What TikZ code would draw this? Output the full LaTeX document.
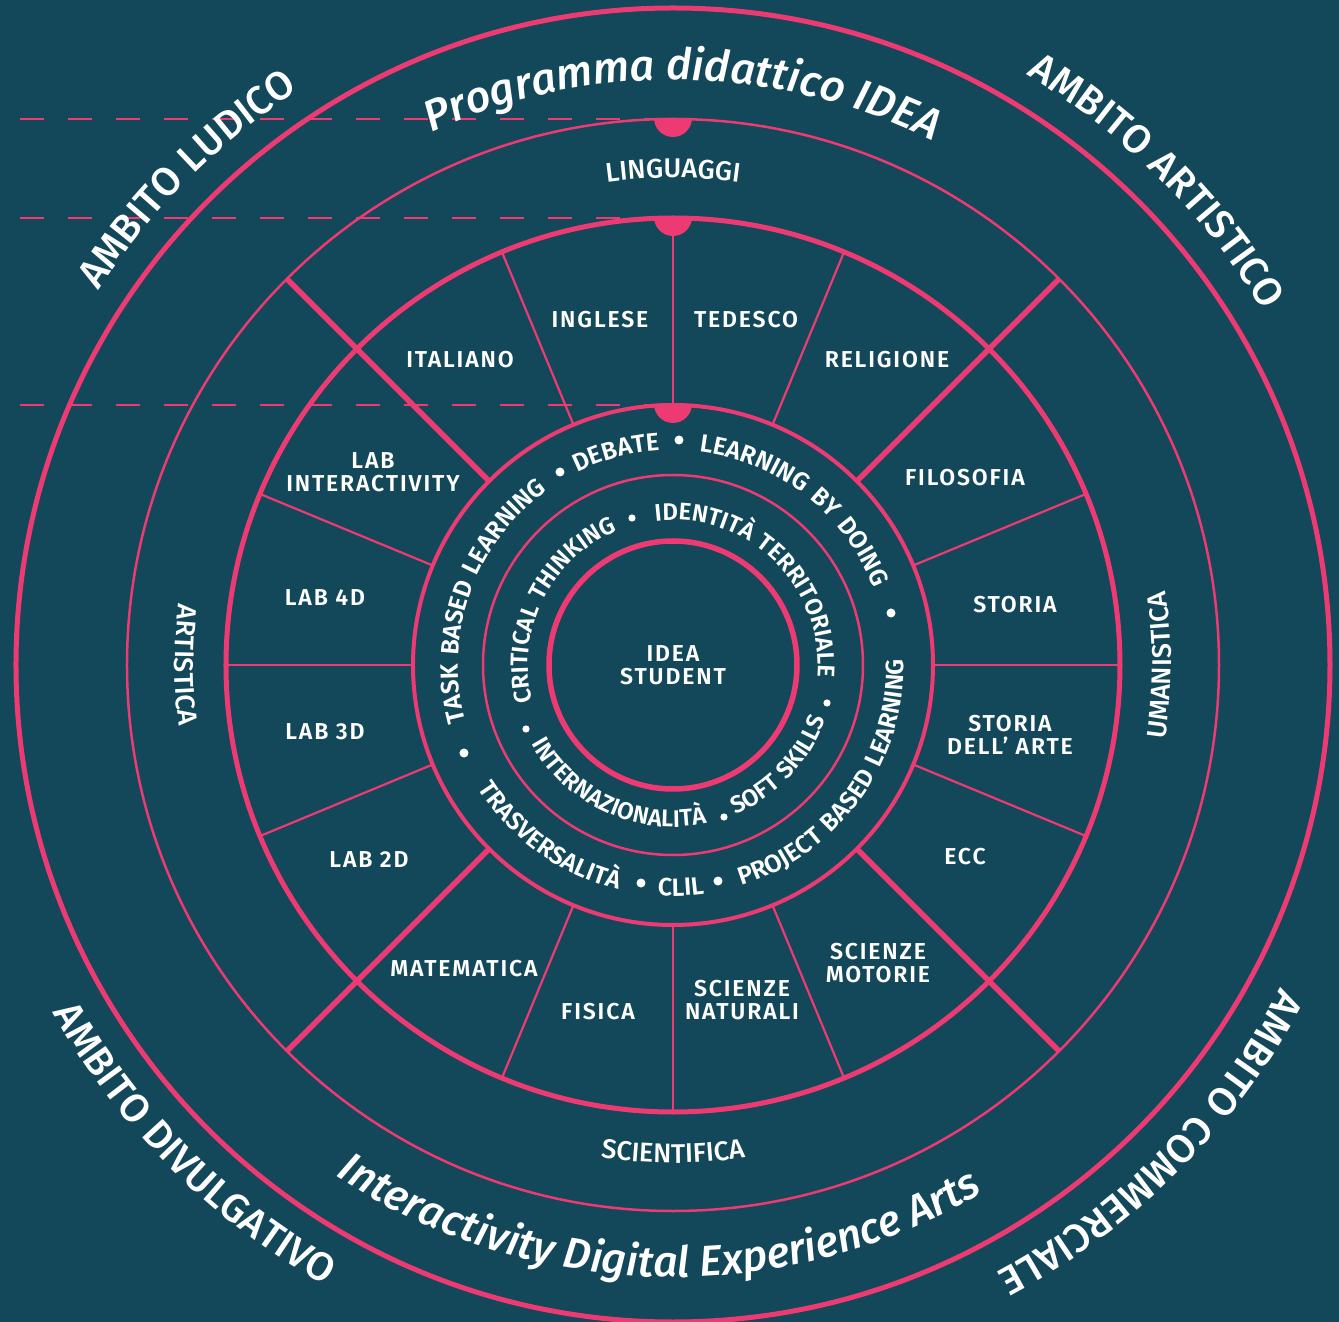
\documentclass[tikz,border=0pt]{standalone}
\usepackage{fontspec}
\setmainfont{Fira Sans}
\IfFontExistsTF{Fira Sans SemiBold}{\newfontfamily\fsemi{Fira Sans SemiBold}[LetterSpace=8]\newfontfamily\fring{Fira Sans SemiBold}[LetterSpace=9]\newfontfamily\fringb{Fira Sans SemiBold}[LetterSpace=7]}{\newfontfamily\fsemi{Fira Sans}[FakeBold=1.5,LetterSpace=8]\newfontfamily\fring{Fira Sans}[FakeBold=1.5,LetterSpace=9]\newfontfamily\fringb{Fira Sans}[FakeBold=1.5,LetterSpace=7]}
\IfFontExistsTF{Fira Sans Medium}{\newfontfamily\fmed{Fira Sans Medium}[LetterSpace=14]\newfontfamily\famb{Fira Sans Medium}[LetterSpace=3]}{\newfontfamily\fmed{Fira Sans}[LetterSpace=14]\newfontfamily\famb{Fira Sans}[LetterSpace=3]}
\IfFontExistsTF{Fira Sans Medium Italic}{\newfontfamily\fmedit{Fira Sans Medium Italic}}{\newfontfamily\fmedit{Fira Sans}[FakeSlant=0.2]}
\usetikzlibrary{decorations.text}
\definecolor{bg}{HTML}{12485A}
\definecolor{pk}{HTML}{EE3A72}
\newcommand\lblf{\fsemi\fontsize{23}{23.5}\selectfont}
\newcommand\ringf{\fring\fontsize{25}{27}\selectfont}
\newcommand\ringbf{\fringb\fontsize{24}{26}\selectfont}
\newcommand\secf{\fmed\fontsize{27}{29}\selectfont}
\newcommand\ambf{\famb\fontsize{40}{44}\selectfont}
\newcommand\titf{\fmedit\fontsize{43.5}{48}\selectfont}
\newcommand\subf{\fmedit\fontsize{43}{48}\selectfont}
\newcommand\cwtxt[4]{\path[decorate,decoration={text along path,text align=center,text color=white,text={|#3|#4}}] ({#1+100}:#2) arc[start angle={#1+100},end angle={#1-100},radius=#2];}
\newcommand\ccwtxt[4]{\path[decorate,decoration={text along path,text align=center,text color=white,text={|#3|#4}}] ({#1-100}:#2) arc[start angle={#1-100},end angle={#1+100},radius=#2];}
\tikzset{
 ringthick/.style={draw=pk,line width=5pt},
 ringthin/.style={draw=pk,line width=2.5pt},
 spoke/.style={draw=pk,line width=2.2pt},
 spokemid/.style={draw=pk,line width=2.8pt},
 spokebold/.style={draw=pk,line width=5.5pt},
 guide/.style={draw=pk,line width=2.4pt,dash pattern=on 24pt off 24pt},
 lbl/.style={text=white,font=\lblf,align=center,inner sep=0pt},
 bulletdot/.style={fill=white}
}
\begin{document}
\begin{tikzpicture}[x=1pt,y=1pt]
\fill[bg] (-673,-657) rectangle (666,665);
\useasboundingbox (-673,-657) rectangle (666,665);
% dashed guides
\coordinate (g1s) at (-653,546); \coordinate (g1e) at (-18,546);
\coordinate (g2s) at (-653,447); \coordinate (g2e) at (-18,447);
\coordinate (g3s) at (-653,260); \coordinate (g3e) at (-18,260);
\draw[guide] (g1s) -- (g1e);
\draw[guide] (g2s) -- (g2e);
\draw[guide] (g3s) -- (g3e);
% rings
\draw[ringthick] (0,0) circle[radius=657];
\draw[ringthin] (0,0) circle[radius=546];
\draw[ringthick] (0,0) circle[radius=447];
\draw[ringthick,line width=4pt] (0,0) circle[radius=260];
\draw[ringthin] (0,0) circle[radius=190];
\draw[ringthick,line width=5.5pt] (0,0) circle[radius=124];
% spokes
\foreach \a in {45,135,225,315} \draw[spokebold] (\a:260) -- (\a:546);
\foreach \a in {22.5,67.5,112.5,157.5,202.5,247.5,292.5,337.5} \draw[spoke] (\a:260) -- (\a:447);
\foreach \a in {0,180,270} \draw[spokemid] (\a:260) -- (\a:447);
\draw[spokemid] (90:260) -- (90:447);
% dots
\foreach \r in {546,447,260} \fill[pk] (-19,\r+1) arc[start angle=180,end angle=360,radius=19] -- cycle;
% sector labels
\node[lbl] (inglese) at (-73,345) {INGLESE};
\node[lbl] (tedesco) at (73,345) {TEDESCO};
\node[lbl] (religione) at (214,305) {RELIGIONE};
\node[lbl] (filosofia) at (292,187) {FILOSOFIA};
\node[lbl] (storia) at (342,60) {STORIA};
\node[lbl] (storiaarte) at (337,-70) {STORIA\\DELL’ ARTE};
\node[lbl] (ecc) at (292,-192) {ECC};
\node[lbl] (motorie) at (205,-298) {SCIENZE\\MOTORIE};
\node[lbl] (naturali) at (69,-335) {SCIENZE\\NATURALI};
\node[lbl] (fisica) at (-75,-347) {FISICA};
\node[lbl] (matematica) at (-209,-304) {MATEMATICA};
\node[lbl] (lab2d) at (-304,-195) {LAB 2D};
\node[lbl] (lab3d) at (-348,-67) {LAB 3D};
\node[lbl] (lab4d) at (-348,67) {LAB 4D};
\node[lbl] (labint) at (-300,193) {LAB\\INTERACTIVITY};
\node[lbl] (italiano) at (-213,305) {ITALIANO};
\node[lbl] (student) at (0,0) {IDEA\\STUDENT};
% ring A texts
\cwtxt{160.4}{215}{\ringf}{TASK BASED LEARNING}
\cwtxt{105}{215}{\ringf}{DEBATE}
\cwtxt{52}{215}{\ringf}{LEARNING BY DOING}
\ccwtxt{234.3}{231}{\ringf}{TRASVERSALITÀ}
\ccwtxt{272}{231}{\ringf}{CLIL}
\ccwtxt{324.3}{231}{\ringf}{PROJECT BASED LEARNING}
\foreach \p in {(-113,193),(6,225),(218,52),(-209,-88),(-32,-218),(45,-216)} \fill[bulletdot] \p circle[radius=4.5];
% ring B texts
\cwtxt{153.6}{145}{\ringbf}{CRITICAL THINKING}
\cwtxt{46}{145}{\ringbf}{IDENTITÀ TERRITORIALE}
\ccwtxt{245.6}{162}{\ringbf}{INTERNAZIONALITÀ}
\ccwtxt{316.5}{162}{\ringbf}{SOFT SKILLS}
\foreach \p in {(-41,147),(154,-38),(-147,-64),(51,-152)} \fill[bulletdot] \p circle[radius=3.6];
% ring C texts
\cwtxt{90}{487}{\secf}{LINGUAGGI}
\ccwtxt{270}{498}{\secf}{SCIENTIFICA}
\ccwtxt{180}{498}{\secf}{ARTISTICA}
\ccwtxt{0}{498}{\secf}{UMANISTICA}
% outer ring titles
\cwtxt{89}{585}{\titf}{Programma didattico IDEA}
\ccwtxt{268.5}{612}{\subf}{Interactivity Digital Experience Arts}
% ambiti
\cwtxt{135}{686}{\ambf}{AMBITO LUDICO}
\cwtxt{45}{688}{\ambf}{AMBITO ARTISTICO}
\cwtxt{-45}{688}{\ambf}{AMBITO COMMERCIALE}
\ccwtxt{225}{711}{\ambf}{AMBITO DIVULGATIVO}
\end{tikzpicture}
\end{document}
